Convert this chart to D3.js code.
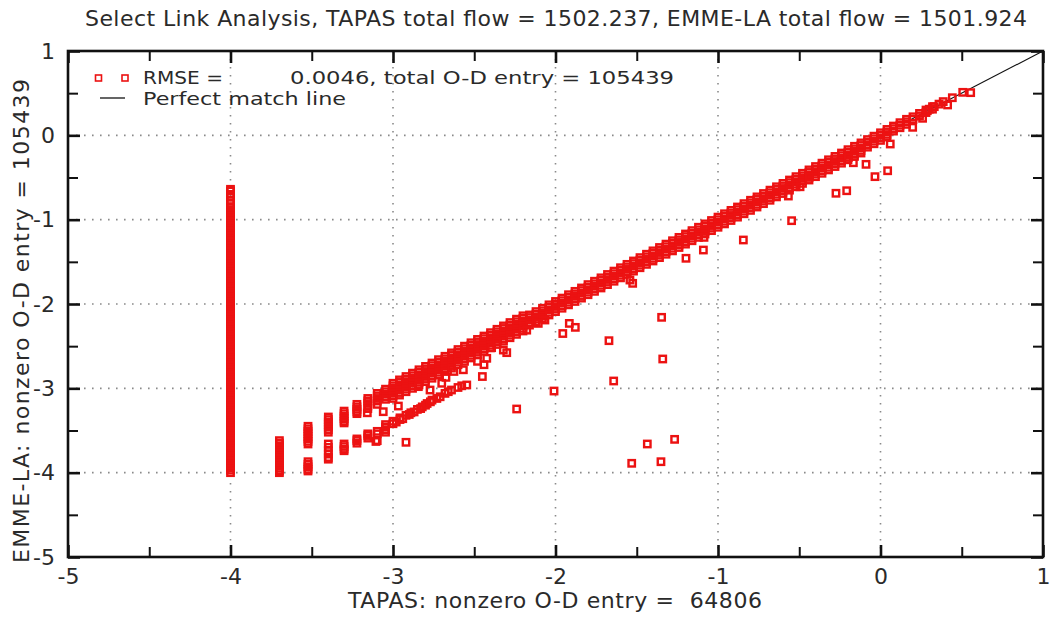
<!DOCTYPE html>
<html>
<head>
<meta charset="utf-8">
<script src="https://cdn.jsdelivr.net/npm/d3@7"></script>
<style>
  html, body { margin: 0; padding: 0; background: #fff; }
  svg { display: block; }
  text { font-family: "DejaVu Sans", Verdana, sans-serif; fill: #2a2a2a; }
</style>
</head>
<body>
<svg id="chart" width="1051" height="617"></svg>
<script>
// ---------------- DATA ----------------
const titleText = "Select Link Analysis, TAPAS total flow = 1502.237, EMME-LA total flow = 1501.924";
const xLabelText = "TAPAS: nonzero O-D entry =  64806";
const yLabelText = "EMME-LA: nonzero O-D entry = 105439";
const legendRmseLabel = "RMSE =";
const legendRmseValue = "0.0046, total O-D entry = 105439";
const legendLineLabel = "Perfect match line";

const majorTicks = [-5, -4, -3, -2, -1, 0, 1];
const minorTicks = [-4.5, -3.5, -2.5, -1.5, -0.5, 0.5];
const gridTicks = [-4, -3, -2, -1, 0];
const perfectLine = [-3.1, 1];

// vertical stripe of points at TAPAS = -4
const stripeX = -4;
const stripeY = [-4.00,-3.97,-3.94,-3.91,-3.88,-3.85,-3.82,-3.79,-3.76,-3.73,-3.70,-3.67,-3.64,-3.61,-3.58,-3.55,-3.52,-3.49,-3.46,-3.43,
  -3.40,-3.37,-3.34,-3.31,-3.28,-3.25,-3.22,-3.19,-3.16,-3.13,-3.10,-3.07,-3.04,-3.01,-2.98,-2.95,-2.92,-2.89,-2.86,-2.83,
  -2.80,-2.77,-2.74,-2.71,-2.68,-2.65,-2.62,-2.59,-2.56,-2.53,-2.50,-2.47,-2.44,-2.41,-2.38,-2.35,-2.32,-2.29,-2.26,-2.23,
  -2.20,-2.17,-2.14,-2.11,-2.08,-2.05,-2.02,-1.99,-1.96,-1.93,-1.90,-1.87,-1.84,-1.81,-1.78,-1.75,-1.72,-1.69,-1.66,-1.63,
  -1.60,-1.57,-1.54,-1.51,-1.48,-1.45,-1.42,-1.39,-1.36,-1.33,-1.30,-1.27,-1.24,-1.21,-1.18,-1.15,-1.12,-1.09,-1.06,-1.03,
  -1.00,-0.97,-0.94,-0.91,-0.88,-0.85,-0.81,-0.77,-0.73,-0.70,-0.66,-0.64];

// discrete low-value columns
const columnX = [-3.699, -3.523, -3.398, -3.301, -3.222, -3.155, -3.097, -3.046];
const columnY = [
  [-3.62,-3.65,-3.68,-3.71,-3.74,-3.77,-3.80,-3.83,-3.86,-3.89,-3.92,-3.95,-3.98,-4.00],
  [-3.45,-3.48,-3.51,-3.54,-3.57,-3.60,-3.63,-3.66,-3.87,-3.90,-3.93,-3.96,-3.98],
  [-3.34,-3.37,-3.40,-3.43,-3.46,-3.49,-3.52,-3.66,-3.70,-3.74,-3.78,-3.82,-3.84],
  [-3.27,-3.30,-3.33,-3.36,-3.39,-3.41,-3.66,-3.69,-3.72,-3.74],
  [-3.19,-3.22,-3.25,-3.28,-3.30,-3.60,-3.62,-3.65],
  [-3.12,-3.15,-3.18,-3.21,-3.24,-3.54,-3.56,-3.59],
  [-3.06,-3.09,-3.12,-3.15,-3.19,-3.51,-3.54,-3.62],
  [-3.01,-3.04,-3.07,-3.10,-3.13,-3.43,-3.46,-3.49,-3.52]
];

// main diagonal band
const bandX = [-3.00,-2.96,-2.92,-2.88,-2.84,-2.80,-2.76,-2.72,-2.68,-2.64,
  -2.60,-2.56,-2.52,-2.48,-2.44,-2.40,-2.36,-2.32,-2.28,-2.24,
  -2.20,-2.16,-2.12,-2.08,-2.04,-2.00,-1.96,-1.92,-1.88,-1.84,
  -1.80,-1.76,-1.72,-1.68,-1.64,-1.60,-1.56,-1.52,-1.48,-1.44,
  -1.40,-1.36,-1.32,-1.28,-1.24,-1.20,-1.16,-1.12,-1.08,-1.04,
  -1.00,-0.96,-0.92,-0.88,-0.84,-0.80,-0.76,-0.72,-0.68,-0.64,
  -0.60,-0.56,-0.52,-0.48,-0.44,-0.40,-0.36,-0.32,-0.28,-0.24,
  -0.20,-0.16,-0.12,-0.08,-0.04,0.00,0.04,0.08,0.12,0.16,
  0.20,0.24,0.28,0.32];
const bandYTop = [-2.94,-2.90,-2.86,-2.82,-2.78,-2.74,-2.70,-2.66,-2.62,-2.58,
  -2.54,-2.50,-2.46,-2.42,-2.38,-2.34,-2.30,-2.26,-2.22,-2.18,
  -2.14];
const bandYA = [-2.97,-2.93,-2.89,-2.85,-2.81,-2.77,-2.73,-2.69,-2.65,-2.61,
  -2.57,-2.53,-2.49,-2.45,-2.41,-2.37,-2.33,-2.29,-2.25,-2.21,
  -2.17,-2.13,-2.09,-2.05,-2.01,-1.97,-1.93,-1.89,-1.85,-1.81,
  -1.77,-1.73,-1.69,-1.65,-1.61,-1.57,-1.53,-1.49,-1.45,-1.41,
  -1.37,-1.33,-1.29,-1.25,-1.21,-1.17,-1.13,-1.09,-1.05,-1.01,
  -0.97,-0.93,-0.89,-0.85,-0.81,-0.77,-0.73,-0.69,-0.65,-0.61,
  -0.57,-0.53,-0.49,-0.45,-0.41,-0.37,-0.33,-0.29,-0.25,-0.21,
  -0.17,-0.13,-0.09,-0.05,-0.01,0.03,0.07,0.11,0.15,0.19,
  0.22,0.26,0.30,0.34];
const bandYB = [-3.00,-2.96,-2.92,-2.88,-2.84,-2.80,-2.76,-2.72,-2.68,-2.64,
  -2.60,-2.56,-2.52,-2.48,-2.44,-2.40,-2.36,-2.32,-2.28,-2.24,
  -2.20,-2.16,-2.12,-2.08,-2.04,-2.00,-1.96,-1.92,-1.88,-1.84,
  -1.80,-1.76,-1.72,-1.68,-1.64,-1.60,-1.56,-1.52,-1.48,-1.44,
  -1.40,-1.36,-1.32,-1.28,-1.24,-1.20,-1.16,-1.12,-1.08,-1.04,
  -1.00,-0.96,-0.92,-0.88,-0.84,-0.80,-0.76,-0.72,-0.68,-0.64,
  -0.60,-0.56,-0.52,-0.48,-0.44,-0.40,-0.36,-0.32,-0.28,-0.24,
  -0.20,-0.16,-0.12,-0.08,-0.04,0.00,0.04,0.08,0.12,0.16,
  0.19,0.23,0.27,0.31];
const bandYC = [-3.03,-2.99,-2.95,-2.91,-2.87,-2.83,-2.79,-2.75,-2.71,-2.67,
  -2.63,-2.59,-2.55,-2.51,-2.47,-2.43,-2.39,-2.35,-2.31,-2.27,
  -2.23,-2.19,-2.15,-2.11,-2.07,-2.03,-1.99,-1.95,-1.91,-1.87,
  -1.83,-1.79,-1.75,-1.71,-1.67,-1.63,-1.59,-1.55,-1.51,-1.47,
  -1.43,-1.39,-1.35,-1.31,-1.27,-1.23,-1.19,-1.15,-1.11,-1.07,
  -1.03,-0.99,-0.95,-0.91,-0.87,-0.83,-0.79,-0.75,-0.71,-0.67,
  -0.63,-0.59,-0.55,-0.51,-0.47,-0.43,-0.39,-0.35,-0.31,-0.27,
  -0.23,-0.19,-0.15,-0.11,-0.07,-0.03,0.01,0.05,0.09,0.13,
  null,null,null,null];
const bandYD = [-3.06,-3.02,-2.98,-2.94,-2.90,-2.86,-2.82,-2.78,-2.74,-2.70,
  -2.66,-2.62,-2.58,-2.54,-2.50,-2.46,-2.42,-2.38,-2.34,-2.30,
  -2.26,-2.22,-2.18,-2.14,-2.10,-2.06,-2.02,-1.98,-1.94,-1.90,
  -1.86,-1.82,-1.78,-1.74,-1.70,-1.66,-1.62,-1.58,-1.54,-1.50,
  -1.46,-1.42,-1.38,-1.34,-1.30,-1.26,-1.22,-1.18,-1.14,-1.10,
  -1.06,-1.02,-0.98,-0.94,-0.90,-0.86,-0.82,-0.78,-0.74,-0.70,
  -0.66,-0.62,-0.58,-0.54,-0.50,-0.46,-0.42,-0.38,-0.34,-0.30,
  -0.26,-0.22,-0.18,-0.14,-0.10,-0.06,-0.02,null,null,null,
  null,null,null,null];
const bandYE = [-3.09,-3.05,-3.01,-2.97,-2.93,-2.89,-2.85,-2.81,-2.77,-2.73,
  -2.69,-2.65,-2.61,-2.57,-2.53,-2.49,-2.45,-2.41,-2.37,-2.33,
  -2.29,-2.25,-2.21,-2.17,-2.13,-2.09,-2.05,-2.01,-1.97,-1.93,
  -1.89,-1.85,-1.81,-1.77,-1.73,-1.69,-1.65,-1.61,-1.57,-1.53,
  -1.49,-1.45,-1.41,-1.37,-1.33,-1.29,-1.25,-1.21,-1.17,-1.13,
  -1.09,-1.05,-1.01,-0.97,-0.93,-0.89,-0.85,-0.81,-0.77,-0.73,
  -0.69,-0.65,-0.61,-0.57,-0.53,-0.49,-0.45,-0.41,-0.37,-0.33,
  -0.29,-0.25,-0.21,null,null,null,null,null,null,null,
  null,null,null,null];
const bandYBottom = [-3.12,-3.08,-3.04,-3.00,-2.96,-2.92,-2.88,-2.84,-2.80,-2.76,
  -2.72,-2.68,-2.64,-2.60,-2.56,-2.52,-2.48,-2.44,-2.40,-2.36,
  -2.32];

// secondary (lower) band
const lowerBand = [[-3.000,-3.39],[-3.000,-3.42],[-2.980,-3.40],[-2.957,-3.35],[-2.957,-3.37],[-2.940,-3.36],
  [-2.920,-3.32],[-2.900,-3.31],[-2.890,-3.29],[-2.870,-3.28],[-2.850,-3.25],[-2.830,-3.24],[-2.820,-3.22],
  [-2.800,-3.20],[-2.790,-3.18],[-2.770,-3.16],[-2.760,-3.14],[-2.730,-3.12],[-2.710,-3.10],[-2.680,-3.06],
  [-2.660,-3.04],[-2.640,-3.02],[-2.600,-2.99],[-2.577,-2.97],[-2.546,-2.96]];

// scattered points
const outliers = [[-1.347,-2.158],[-1.671,-2.435],[-1.340,-2.652],[-1.642,-2.913],[-1.435,-3.660],[-1.267,-3.605],
  [-1.531,-3.889],[-1.351,-3.870],[-2.239,-3.245],[-2.009,-3.032],[-2.920,-3.640],[-2.300,-2.577],[-2.450,-2.860],
  [-2.440,-2.720],[-2.480,-2.680],[-2.567,-2.780],[-2.625,-2.800],[-2.674,-2.870],[-1.955,-2.350],[-1.915,-2.230],
  [-1.878,-2.277],[-2.177,-2.310],[-2.065,-2.190],[-2.393,-2.518],[-1.525,-1.755],[-1.542,-1.716],[-1.197,-1.458],
  [-1.090,-1.360],[-1.086,-1.210],[-0.844,-1.241],[-0.547,-1.012],[-0.567,-0.720],[-0.495,-0.610],[-0.274,-0.687],
  [-0.208,-0.657],[-0.034,-0.490],[0.044,-0.420],[-0.089,-0.344],[-0.167,-0.325],[0.060,-0.103],[-0.198,-0.262],
  [-0.438,-0.490],[-2.106,-2.230],[-2.362,-2.447],[-2.321,-2.546],[-2.423,-2.644],[-2.700,-2.940],[-2.772,-3.020],
  [-2.844,-2.980],[-2.967,-3.210],[-3.060,-3.277],[-3.158,-3.290],[-3.105,-3.630]];
const upperTail = [[0.555,0.506],[0.506,0.510],[0.442,0.446],[0.413,0.360],[0.386,0.400],[0.360,0.370],
  [0.331,0.340],[0.300,0.310],[0.288,0.292],[0.259,0.202],[0.198,0.095]];

// ---------------- CHART ----------------
const svg = d3.select("#chart");
const plot = { left: 68, right: 1043, top: 51, bottom: 557 };
const x = d3.scaleLinear().domain([-5, 1]).range([plot.left, plot.right]);
const y = d3.scaleLinear().domain([-5, 1]).range([plot.bottom, plot.top]);

const pointColor = "#ec1212";

// grid
const grid = svg.append("g");
grid.selectAll("line.gx").data(gridTicks).join("line")
  .attr("x1", d => x(d)).attr("x2", d => x(d))
  .attr("y1", plot.top).attr("y2", plot.bottom)
  .attr("stroke", "#8a8a8a").attr("stroke-width", 1.6).attr("stroke-dasharray", "1.6,6.4");
grid.selectAll("line.gy").data(gridTicks).join("line")
  .attr("y1", d => y(d)).attr("y2", d => y(d))
  .attr("x1", plot.left).attr("x2", plot.right)
  .attr("stroke", "#8a8a8a").attr("stroke-width", 1.6).attr("stroke-dasharray", "1.6,6.4");

// perfect match line
svg.append("line")
  .attr("x1", x(perfectLine[0])).attr("y1", y(perfectLine[0]))
  .attr("x2", x(perfectLine[1])).attr("y2", y(perfectLine[1]))
  .attr("stroke", "#111").attr("stroke-width", 1.1);

// collect points
const pts = [];
stripeY.forEach(v => pts.push([stripeX, v]));
columnX.forEach((cx, i) => columnY[i].forEach(v => pts.push([cx, v])));
[bandYTop, bandYA, bandYB, bandYC, bandYD, bandYE, bandYBottom].forEach(row =>
  row.forEach((v, i) => { if (v !== null) pts.push([bandX[i], v]); }));
lowerBand.forEach(p => pts.push(p));
outliers.forEach(p => pts.push(p));
upperTail.forEach(p => pts.push(p));

const S = 6.4;
svg.append("g").selectAll("rect").data(pts).join("rect")
  .attr("x", d => x(d[0]) - S / 2).attr("y", d => y(d[1]) - S / 2)
  .attr("width", S).attr("height", S)
  .attr("fill", "none").attr("stroke", pointColor).attr("stroke-width", 2.4);

// axes (inward ticks on all four sides)
function styleAxis(g, w) {
  g.select(".domain").remove();
  g.selectAll(".tick line").attr("stroke", "#111").attr("stroke-width", w);
  g.selectAll(".tick text").attr("fill", "#2a2a2a").style("font-size", "22px")
    .style("font-family", '"DejaVu Sans", Verdana, sans-serif');
}
const fmt = d => String(d);
svg.append("g").attr("transform", `translate(0,${plot.bottom})`)
  .call(d3.axisBottom(x).tickValues(majorTicks).tickSize(-12).tickPadding(11).tickFormat(fmt))
  .call(g => styleAxis(g, 2.6));
svg.append("g").attr("transform", `translate(0,${plot.bottom})`)
  .call(d3.axisBottom(x).tickValues(minorTicks).tickSize(-10).tickFormat(""))
  .call(g => styleAxis(g, 2));
svg.append("g").attr("transform", `translate(0,${plot.top})`)
  .call(d3.axisTop(x).tickValues(majorTicks).tickSize(-12).tickFormat(""))
  .call(g => styleAxis(g, 2.6));
svg.append("g").attr("transform", `translate(0,${plot.top})`)
  .call(d3.axisTop(x).tickValues(minorTicks).tickSize(-10).tickFormat(""))
  .call(g => styleAxis(g, 2));
svg.append("g").attr("transform", `translate(${plot.left},0)`)
  .call(d3.axisLeft(y).tickValues(majorTicks).tickSize(-12).tickPadding(13).tickFormat(fmt))
  .call(g => styleAxis(g, 2.6));
svg.append("g").attr("transform", `translate(${plot.left},0)`)
  .call(d3.axisLeft(y).tickValues(minorTicks).tickSize(-10).tickFormat(""))
  .call(g => styleAxis(g, 2));
svg.append("g").attr("transform", `translate(${plot.right},0)`)
  .call(d3.axisRight(y).tickValues(majorTicks).tickSize(-12).tickFormat(""))
  .call(g => styleAxis(g, 2.6));
svg.append("g").attr("transform", `translate(${plot.right},0)`)
  .call(d3.axisRight(y).tickValues(minorTicks).tickSize(-10).tickFormat(""))
  .call(g => styleAxis(g, 2));

// frame
svg.append("rect")
  .attr("x", plot.left).attr("y", plot.top)
  .attr("width", plot.right - plot.left).attr("height", plot.bottom - plot.top)
  .attr("fill", "none").attr("stroke", "#111").attr("stroke-width", 2.6);

// title & axis labels
svg.append("text").attr("x", 85).attr("y", 26)
  .attr("textLength", 942).attr("lengthAdjust", "spacing")
  .style("font-size", "22px").text(titleText);
svg.append("text").attr("x", 348).attr("y", 608)
  .attr("textLength", 414).attr("lengthAdjust", "spacing")
  .style("font-size", "22px").style("white-space", "pre").text(xLabelText);
svg.append("text").attr("transform", "translate(29,563) rotate(-90)")
  .attr("textLength", 484).attr("lengthAdjust", "spacing")
  .style("font-size", "22px").text(yLabelText);

// legend
const lg = svg.append("g");
[98.5, 125].forEach(cx => lg.append("rect")
  .attr("x", cx - 3).attr("y", 78 - 3).attr("width", 6).attr("height", 6)
  .attr("fill", "none").attr("stroke", pointColor).attr("stroke-width", 1.6));
lg.append("text").attr("x", 143).attr("y", 84).style("font-size", "18px")
  .attr("textLength", 80).attr("lengthAdjust", "spacingAndGlyphs").text(legendRmseLabel);
lg.append("text").attr("x", 290).attr("y", 84)
  .attr("textLength", 384).attr("lengthAdjust", "spacingAndGlyphs")
  .style("font-size", "18px").text(legendRmseValue);
lg.append("line").attr("x1", 100).attr("x2", 125).attr("y1", 98).attr("y2", 98)
  .attr("stroke", "#111").attr("stroke-width", 1.3);
lg.append("text").attr("x", 143).attr("y", 105)
  .attr("textLength", 203).attr("lengthAdjust", "spacingAndGlyphs")
  .style("font-size", "18px").text(legendLineLabel);
</script>
</body>
</html>
